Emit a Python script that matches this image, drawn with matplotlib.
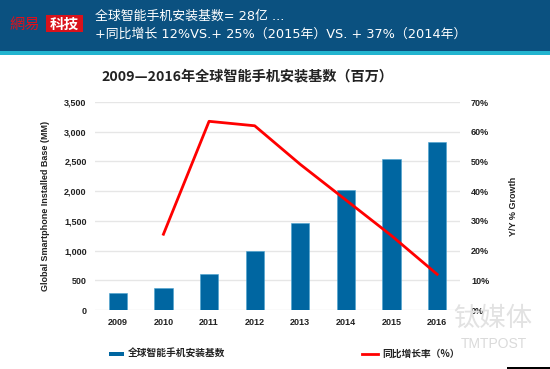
import matplotlib
matplotlib.use("Agg")
import matplotlib.pyplot as plt
from matplotlib.patches import Rectangle
from matplotlib.lines import Line2D

plt.rcParams['font.family'] = ['Liberation Sans', 'Noto Sans CJK SC', 'DejaVu Sans']
CJK = ['Noto Sans CJK SC', 'DejaVu Sans']
HEAD_FONT = ['DejaVu Sans', 'Noto Sans CJK SC']

years = ["2009", "2010", "2011", "2012", "2013", "2014", "2015", "2016"]
installed_base = [291, 371, 612, 989, 1471, 2027, 2539, 2831]
growth_years = ["2010", "2011", "2012", "2013", "2014", "2015", "2016"]
growth_pct = [25.5, 63.5, 62.0, 49.0, 37.0, 25.0, 12.0]

BAR = "#0066a1"
RED = "#ff0000"
HEADER = "#0b5180"

W, H = 550, 369
fig = plt.figure(figsize=(W / 100, H / 100), dpi=100)
fig.patch.set_facecolor("white")

# header band
fig.add_artist(Rectangle((0, 1 - 51 / H), 1, 51 / H, transform=fig.transFigure,
                         facecolor=HEADER, edgecolor="none"))
fig.add_artist(Rectangle((0, 1 - 55 / H), 1, 4 / H, transform=fig.transFigure,
                         facecolor="#22b4cf", edgecolor="none"))
fig.text(9 / W, 1 - 24 / H, "網易", color="#e0101a", fontsize=11, family=CJK,
         va="center", ha="left")
fig.add_artist(Rectangle((46 / W, 1 - 32 / H), 37 / W, 17 / H, transform=fig.transFigure,
                         facecolor="#d9121b", edgecolor="none"))
fig.text(64.5 / W, 1 - 23.5 / H, "科技", color="white", fontsize=10.5, family=CJK,
         va="center", ha="center", fontweight="bold")
fig.text(95 / W, 1 - 16 / H, "全球智能手机安装基数= 28亿 ...", color="white",
         fontsize=9.3, family=HEAD_FONT, va="center", ha="left")
fig.text(95 / W, 1 - 34 / H, "+同比增长 12%VS.+ 25%（2015年）VS. + 37%（2014年）",
         color="white", fontsize=9.3, family=HEAD_FONT, va="center", ha="left")

# title
fig.text(247 / W, 1 - 77 / H, "2009—2016年全球智能手机安装基数（百万）", fontsize=10.2,
         family=CJK, fontweight="bold", ha="center", va="center", color="#222222")

ax = fig.add_axes([95 / W, 1 - 310 / H, 365 / W, 208 / H])
x = list(range(len(years)))
ax.bar(x, installed_base, width=0.4, color=BAR, edgecolor="#4aa3d0", linewidth=0.4, zorder=2)
ax.set_xlim(-0.5, 7.5)
ax.set_ylim(0, 3500)
ax.set_yticks(range(0, 3501, 500))
ax.set_yticklabels([f"{v:,}" for v in range(0, 3501, 500)])
ax.set_xticks(x)
ax.set_xticklabels(years)
ax.grid(axis="y", color="#e6e6e6", linewidth=1, zorder=0)
for sp in ax.spines.values():
    sp.set_visible(False)
ax.tick_params(length=0, labelsize=6.5, colors="#222222", pad=6)
for t in ax.get_xticklabels() + ax.get_yticklabels():
    t.set_fontweight("bold")
ax.set_ylabel("Global Smartphone Installed Base (MM)", fontsize=6.5, fontweight="bold",
              color="#222222", labelpad=10)

ax2 = ax.twinx()
gx = [years.index(y) for y in growth_years]
ax2.plot(gx, growth_pct, color=RED, linewidth=2, zorder=3)
ax2.set_ylim(0, 70)
ax2.set_yticks(range(0, 71, 10))
ax2.set_yticklabels([f"{v}%" for v in range(0, 71, 10)])
for sp in ax2.spines.values():
    sp.set_visible(False)
ax2.tick_params(length=0, labelsize=6.5, colors="#222222", pad=8)
for t in ax2.get_yticklabels():
    t.set_fontweight("bold")
ax2.set_ylabel("Y/Y % Growth", fontsize=6.5, fontweight="bold", color="#222222",
               labelpad=14)

# legend
fig.add_artist(Rectangle((109 / W, 1 - 356 / H), 15 / W, 4 / H, transform=fig.transFigure,
                         facecolor=BAR, edgecolor="none"))
fig.text(128 / W, 1 - 354 / H, "全球智能手机安装基数", fontsize=7, family=CJK,
         fontweight="bold", va="center", ha="left", color="#222222")
fig.add_artist(Line2D([362 / W, 378 / W], [1 - 354 / H, 1 - 354 / H], transform=fig.transFigure,
                      color=RED, linewidth=2))
fig.text(382 / W, 1 - 354 / H, "同比增长率（%）", fontsize=7, family=CJK,
         fontweight="bold", va="center", ha="left", color="#222222")

# watermark
fig.text(493 / W, 1 - 318 / H, "钛媒体", fontsize=19, family=CJK, color="#e2e2e2",
         ha="center", va="center", fontweight="light")
fig.text(494 / W, 1 - 344 / H, "TMTPOST", fontsize=10, color="#dadada",
         ha="center", va="center")
fig.add_artist(Rectangle((507 / W, 0), 43 / W, 2 / H, transform=fig.transFigure,
                         facecolor="black", edgecolor="none"))

fig.savefig("out.png", dpi=100)
